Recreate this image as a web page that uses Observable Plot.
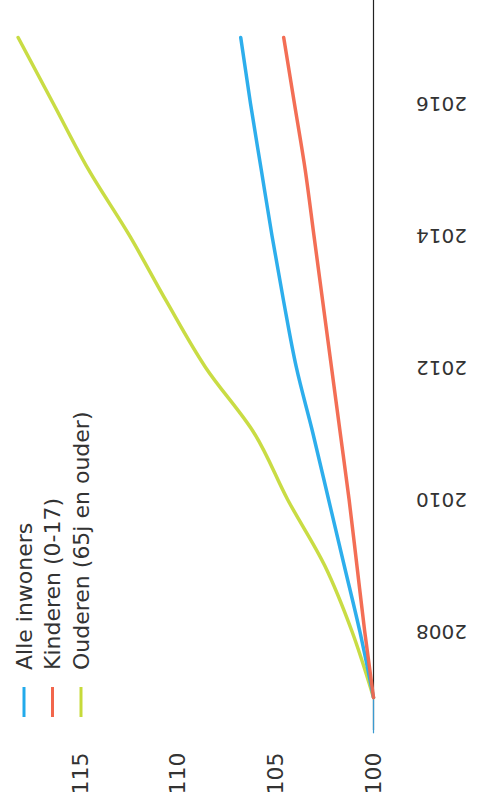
<!DOCTYPE html>
<html>
<head>
<meta charset="utf-8">
<script src="https://cdn.jsdelivr.net/npm/d3@7"></script>
<script src="https://cdn.jsdelivr.net/npm/@observablehq/plot@0.6"></script>
<style>
  body { margin: 0; background: #fff; }
  #chart { position: relative; width: 480px; height: 805px; }
</style>
</head>
<body>
<div id="chart"></div>
<script>
// Data (index, 2007 = 100)
const years = [2007, 2008, 2009, 2010, 2011, 2012, 2013, 2014, 2015, 2016, 2017];
const alleInwoners = [100, 100.7, 101.5, 102.3, 103.1, 103.95, 104.6, 105.2, 105.75, 106.3, 106.8];
const kinderen = [100, 100.45, 100.85, 101.25, 101.7, 102.15, 102.6, 103.05, 103.5, 104.05, 104.6];
const ouderen = [100, 101.1, 102.5, 104.4, 106.1, 108.6, 110.6, 112.5, 114.6, 116.4, 118.2];

const seriesNames = ["Alle inwoners", "Kinderen (0-17)", "Ouderen (65j en ouder)"];
const seriesColors = ["#22aaeb", "#f2664c", "#c6da3a"];
const valueTicks = [100, 105, 110, 115];
const yearTicks = [2008, 2010, 2012, 2014, 2016];

const seriesValues = [alleInwoners, kinderen, ouderen];
const rows = [];
seriesNames.forEach((name, s) => {
  years.forEach((yr, i) => rows.push({series: name, year: yr, value: seriesValues[s][i]}));
});
// draw order: green first, then blue, then red
const drawOrder = [2, 0, 1];
const rowsOrdered = drawOrder.flatMap(s => rows.filter(r => r.series === seriesNames[s]));

const chart = Plot.plot({
  width: 480,
  height: 805,
  marginLeft: 2,
  marginRight: 107,
  marginTop: 0,
  marginBottom: 75,
  style: {fontFamily: "DejaVu Sans", background: "#fff", color: "#333"},
  x: {domain: [100, 119], reverse: true, axis: null},
  y: {domain: [2006.5, 2017.56], axis: null},
  color: {domain: seriesNames, range: seriesColors},
  marks: [
    Plot.ruleX([100], {stroke: "#222", strokeWidth: 1.2}),
    Plot.ruleX([100], {y1: 2006.45, y2: 2007, stroke: "#3a9ad0", strokeWidth: 1.2}),
    Plot.line(rowsOrdered, {x: "value", y: "year", z: "series", stroke: "series", strokeWidth: 3.5, curve: "monotone-y", strokeOpacity: 0.95}),
    Plot.text(valueTicks, {x: d => d, text: d => String(d), frameAnchor: "bottom", dy: 43, rotate: -90,
      fontSize: 22, fill: "#333", textAnchor: "middle", lineAnchor: "middle"}),
    Plot.text(yearTicks, {y: d => d, text: d => String(d), frameAnchor: "right", dx: 68, rotate: 180,
      fontSize: 20, fill: "#333", textAnchor: "middle", lineAnchor: "middle"})
  ]
});

document.getElementById("chart").appendChild(chart);

// Legend (inside the plot area, bottom-left, rotated like the chart)
const svg = d3.select(chart);
const lg = svg.append("g").attr("font-family", "DejaVu Sans").attr("font-size", 22).attr("fill", "#333");
seriesNames.forEach((name, i) => {
  const cx = 24 + i * 28.5;
  lg.append("line")
    .attr("x1", cx).attr("x2", cx).attr("y1", 687).attr("y2", 717)
    .attr("stroke", seriesColors[i]).attr("stroke-width", 3);
  lg.append("text")
    .attr("transform", `translate(${cx},670) rotate(-90)`)
    .attr("text-anchor", "start")
    .attr("dy", "0.35em")
    .text(name);
});
</script>
</body>
</html>
